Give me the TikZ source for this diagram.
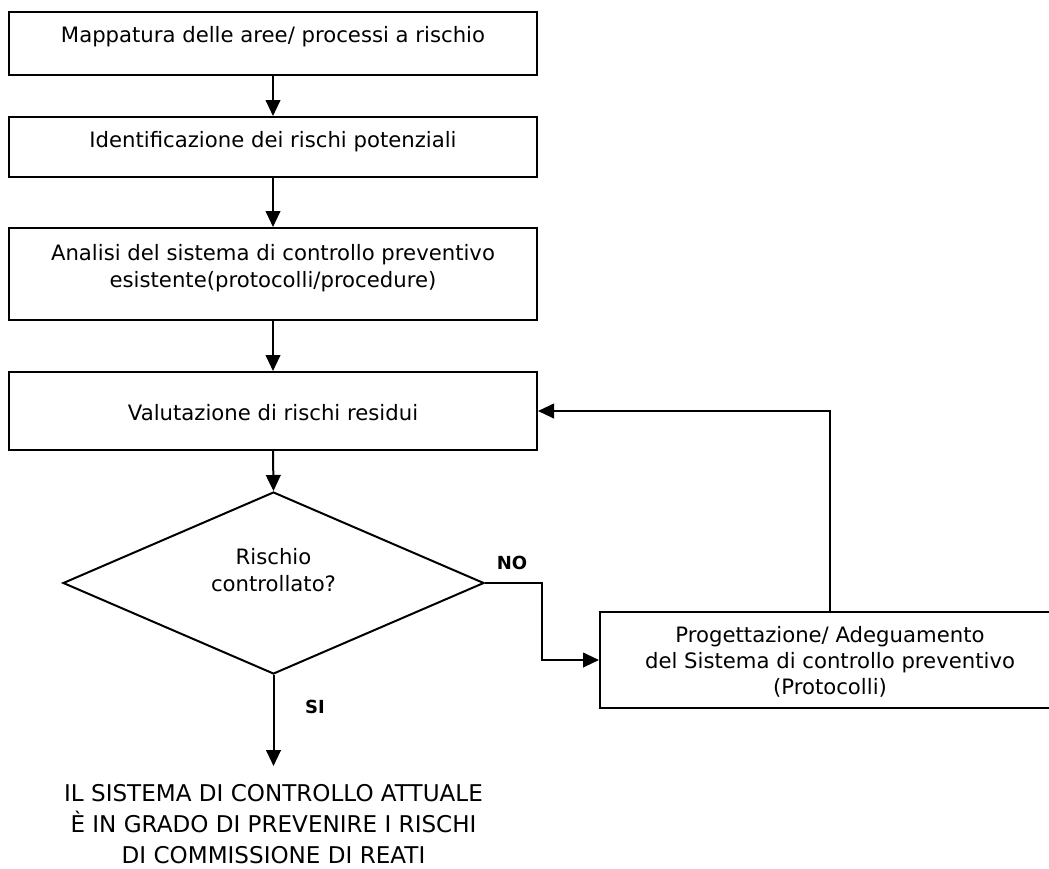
\documentclass[tikz,border=0pt]{standalone}
\usepackage{fontspec}
\setmainfont{DejaVu Sans}
\usetikzlibrary{arrows.meta,shapes.geometric,calc}
\begin{document}
\begin{tikzpicture}[x=0.75pt,y=-0.75pt,
  box/.style={draw,line width=1.5pt,minimum width=396pt,inner sep=0pt},
  txt/.style={font=\fontsize{15.9}{20.2}\selectfont,align=center,inner sep=0pt},
  lab/.style={font=\bfseries\fontsize{13.5}{16}\selectfont,inner sep=0pt},
  arr/.style={line width=1.5pt,-{Triangle[length=12pt,width=11pt]}}]
\useasboundingbox (0,0) rectangle (1049,868);
\node[box,minimum height=47.25pt] (b1) at (273,43.5) {};
\node[txt] (t1) at (273,37) {Mappatura delle aree/ processi a rischio};
\node[box,minimum height=45pt] (b2) at (273,147) {};
\node[txt] (t2) at (273,142) {Identificazione dei rischi potenziali};
\node[box,minimum height=69pt] (b3) at (273,274) {};
\node[txt] (t3) at (273,268) {Analisi del sistema di controllo preventivo\\esistente(protocolli/procedure)};
\node[box,minimum height=58.5pt] (b4) at (273,411) {};
\node[txt] (t4) at (273,413) {Valutazione di rischi residui};
\node[draw,line width=1.5pt,diamond,minimum width=315.75pt,minimum height=136.5pt,inner sep=0pt] (d) at (273.5,583) {};
\node[txt] (td) at (273.5,570) {Rischio\\controllato?};
\node[draw,line width=1.5pt,minimum width=345pt,minimum height=72pt,inner sep=0pt] (b5) at (830,660) {};
\node[txt,font=\fontsize{15.9}{19.5}\selectfont] (t5) at (830,662) {Progettazione/ Adeguamento\\del Sistema di controllo preventivo\\(Protocolli)};
\node[lab] (no) at (512,563) {NO};
\node[lab] (si) at (315,707) {SI};
\coordinate (knee) at (542,583);
\coordinate (siend) at (273.5,766);
\node[font=\fontsize{17.3}{23.25}\selectfont,align=center,inner sep=0pt] (res) at (273.5,824) {IL SISTEMA DI CONTROLLO ATTUALE\\È IN GRADO DI PREVENIRE I RISCHI\\DI COMMISSIONE DI REATI};
\draw[arr] (b1.south) -- (b2.north);
\draw[arr] (b2.south) -- (b3.north);
\draw[arr] (b3.south) -- (b4.north);
\draw[arr] (b4.south) -- (d.north);
\draw[arr] (d.east) -- (knee) |- (b5.west);
\draw[arr] (b5.north) |- (b4.east);
\draw[arr] (d.south) -- (siend);
\end{tikzpicture}
\end{document}
